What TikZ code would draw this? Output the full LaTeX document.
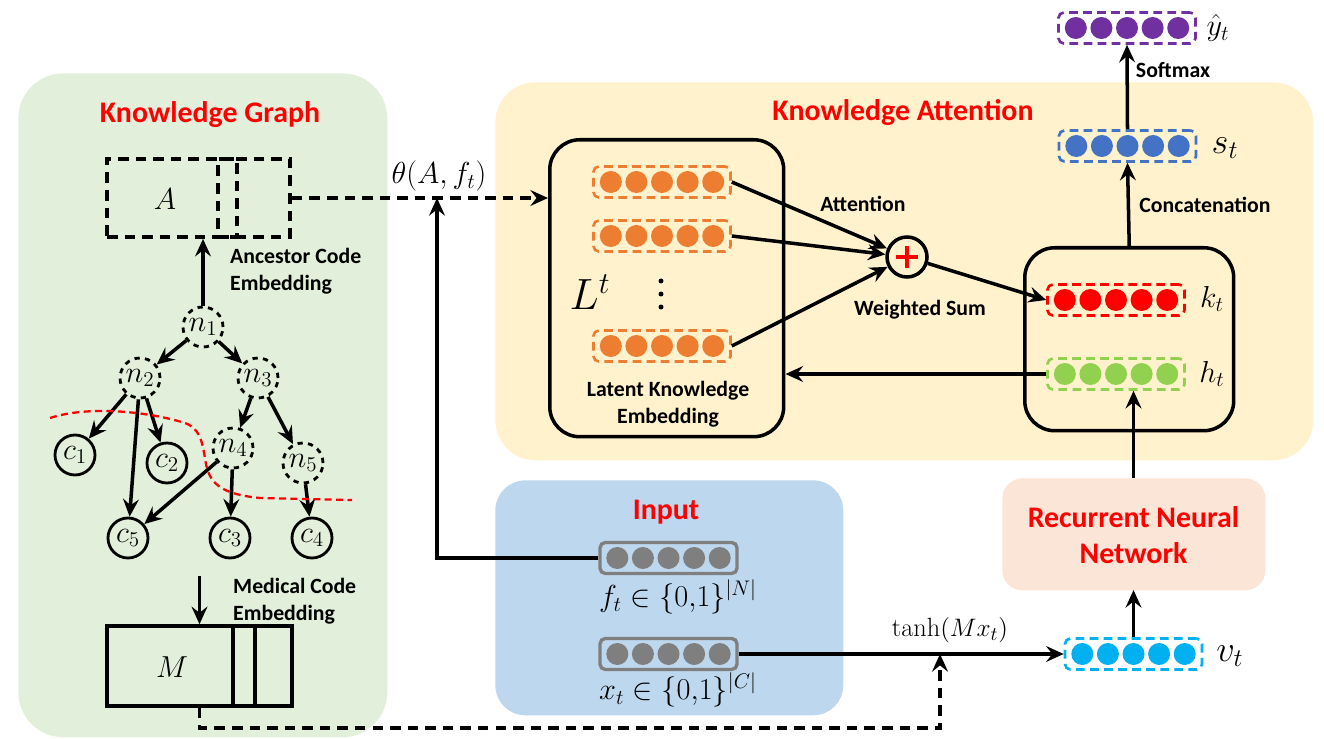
\documentclass[tikz,border=0pt]{standalone}
\usepackage{fontspec}
\setsansfont{Carlito}
\usetikzlibrary{arrows.meta,calc}
\definecolor{kggreen}{HTML}{E2EFDA}
\definecolor{kayellow}{HTML}{FFF2CC}
\definecolor{inblue}{HTML}{BDD7EE}
\definecolor{rnnpeach}{HTML}{FBE5D6}
\definecolor{vorange}{HTML}{ED7D31}
\definecolor{vred}{HTML}{FF0000}
\definecolor{vgreen}{HTML}{92D050}
\definecolor{vblue}{HTML}{4472C4}
\definecolor{vpurple}{HTML}{7030A0}
\definecolor{vcyan}{HTML}{00B0F0}
\definecolor{vgray}{HTML}{7F7F7F}
\definecolor{ttlred}{HTML}{FF0000}
\newcommand\vecdots[2]{\foreach \k in {-2,...,2}{\fill[#2] ($(#1.center)+(\k*25.6,0)$) circle[radius=0.22cm];}}
\tikzset{
 vbox/.style={rounded corners=3pt, line width=1.5pt, dash pattern=on 5pt off 3pt, minimum width=2.74cm, minimum height=0.62cm, inner sep=0pt},
 gbox/.style={rounded corners=3pt, line width=1.9pt, draw=vgray, minimum width=2.74cm, minimum height=0.62cm, inner sep=0pt},
 conn/.style={line width=2pt, -{Stealth[length=10pt,width=9pt,inset=3.5pt]}},
 bdash/.style={line width=2.1pt, dash pattern=on 6pt off 4pt},
 tnode/.style={circle, draw, line width=1.6pt, minimum size=0.8cm, inner sep=0pt, font=\fontsize{18}{20}\selectfont},
 ttl/.style={font=\sffamily\bfseries\fontsize{17}{20.5}\selectfont, text=ttlred, align=center},
 lbl/.style={font=\sffamily\bfseries\fontsize{12.4}{15.4}\selectfont},
 mlbl/.style={font=\fontsize{17}{20}\selectfont},
 panel/.style={anchor=north west, inner sep=0pt},
 rbox/.style={draw, line width=2pt, rounded corners=0.6cm, anchor=north west, inner sep=0pt},
}
\begin{document}
\begin{tikzpicture}[x=0.02cm,y=-0.02cm]
\useasboundingbox (0,0) rectangle (1324,739);
% panels
\node[panel, fill=kggreen, rounded corners=0.9cm, minimum width=7.38cm, minimum height=13.28cm] (kg) at (18,73) {};
\node[panel, fill=kayellow, rounded corners=0.8cm, minimum width=16.36cm, minimum height=7.56cm] (ka) at (495,82) {};
\node[panel, fill=inblue, rounded corners=0.6cm, minimum width=6.96cm, minimum height=4.7cm] (inp) at (495,480) {};
\node[panel, fill=rnnpeach, rounded corners=0.4cm, minimum width=5.26cm, minimum height=2.24cm] (rnnp) at (1002,478) {};
% titles
\node[ttl] (t1) at (210,115) {Knowledge Graph};
\node[ttl] (t2) at (903,113) {Knowledge Attention};
\node[ttl] (t3) at (666,512) {Input};
\node[ttl] (rnn) at (1133.5,535) {Recurrent Neural\\Network};
\coordinate (rnnn) at (1133.5,478);
\coordinate (rnns) at (1133.5,590);
% knowledge graph
\node[draw, bdash, minimum width=2.6cm, minimum height=1.56cm, inner sep=0pt] (abox) at (172,198) {};
\node[draw, bdash, minimum width=1.44cm, minimum height=1.56cm, inner sep=0pt] (abox2) at (254,198) {};
\node[font=\fontsize{19}{22}\selectfont] (alab) at (165,199) {$A$};
\node[tnode, dashed] (n1) at (203,327) {$n_1$};
\node[tnode, dashed] (n2) at (140,378) {$n_2$};
\node[tnode, dashed] (n3) at (258,378) {$n_3$};
\node[tnode, dashed] (n4) at (233,448) {$n_4$};
\node[tnode, dashed] (n5) at (303,463) {$n_5$};
\node[tnode] (c1) at (75,455) {$c_1$};
\node[tnode] (c2) at (167,463) {$c_2$};
\node[tnode] (c5) at (128,538) {$c_5$};
\node[tnode] (c3) at (230,538) {$c_3$};
\node[tnode] (c4) at (312,538) {$c_4$};
\draw[conn] (n1) -- (n2);
\draw[conn] (n1) -- (n3);
\draw[conn] (n2) -- (c1);
\draw[conn] (n2) -- (c2);
\draw[conn] (n2) -- (c5);
\draw[conn] (n3) -- (n4);
\draw[conn] (n3) -- (n5);
\draw[conn] (n4) -- (c5);
\draw[conn] (n4) -- (c3);
\draw[conn] (n5) -- (c4);
\draw[red, line width=1.3pt, dash pattern=on 4pt off 2.5pt] (50,418) .. controls (90,405) and (150,412) .. (185,423) .. controls (205,430) and (203,455) .. (207,468) .. controls (212,488) and (230,495) .. (260,498) -- (352,500);
\draw[conn] (n1.north) -- (n1.north |- abox.south);
\node[lbl, anchor=west, align=left] (anc) at (224,271) {Ancestor Code\\Embedding};
\coordinate (mtop) at (199.5,576);
\node[draw, line width=2pt, minimum width=3.7cm, minimum height=1.6cm, inner sep=0pt] (mbox) at (199.5,666) {};
\draw[line width=2pt] (233,626) -- (233,706) (255,626) -- (255,706);
\node[font=\fontsize{19}{22}\selectfont] (mlab) at (172,667) {$M$};
\draw[conn] (mtop) -- (mbox.north);
\node[lbl, anchor=west, align=left] (med) at (227,601) {Medical Code\\Embedding};
% latent knowledge box
\node[rbox, minimum width=4.68cm, minimum height=5.94cm] (lt) at (548,138) {};
\node[vbox, draw=vorange] (o1) at (662,182) {};
\node[vbox, draw=vorange] (o2) at (662,236) {};
\node[vbox, draw=vorange] (o3) at (662,346) {};
\vecdots{o1}{vorange}
\vecdots{o2}{vorange}
\vecdots{o3}{vorange}
\node[font=\fontsize{23}{25}\selectfont] (ltlab) at (590,292) {$L^t$};
\foreach \yy in {281,294,307}{\fill (661,\yy) circle[radius=0.05cm];}
\node[lbl, align=center] (lke) at (668,404) {Latent Knowledge\\Embedding};
% attention
\node[circle, draw, line width=2pt, fill=kayellow, minimum size=0.8cm, inner sep=0pt] (plus) at (907,257) {};
\draw[vred, line width=2.6pt] ($(plus.center)+(-11,0)$) -- ($(plus.center)+(11,0)$) ($(plus.center)+(0,-11)$) -- ($(plus.center)+(0,11)$);
\draw[conn] (o1.east) -- (plus);
\draw[conn] (o2.east) -- (plus);
\draw[conn] (o3.east) -- (plus);
\node[lbl] (att) at (863,204) {Attention};
\node[lbl] (ws) at (920,310) {Weighted Sum};
% right box
\node[rbox, minimum width=4.18cm, minimum height=3.66cm] (rb) at (1023,246) {};
\node[vbox, draw=vred] (kt) at (1116,300) {};
\vecdots{kt}{vred}
\node[vbox, draw=vgreen] (ht) at (1116,374) {};
\vecdots{ht}{vgreen}
\node[mlbl] (ktl) at (1212,299) {$k_t$};
\node[mlbl] (htl) at (1212,374) {$h_t$};
\draw[conn] (plus) -- (kt.west);
\draw[conn] (ht.west) -- (ht.west -| lt.east);
\node[vbox, draw=vblue] (st) at (1127.5,146) {};
\vecdots{st}{vblue}
\node[font=\fontsize{22}{24}\selectfont] (stl) at (1225,148) {$s_t$};
\node[vbox, draw=vpurple] (yh) at (1127,28) {};
\vecdots{yh}{vpurple}
\node[mlbl] (yhl) at (1218,28) {$\hat{y}_t$};
\draw[conn] (rb.north) -- (st.south);
\draw[conn] (st.north) -- (yh.south);
\node[lbl] (cat) at (1205,205) {Concatenation};
\node[lbl] (smx) at (1173,70) {Softmax};
\draw[conn] (rnnn) -- (rnnn |- ht.south);
% input
\node[gbox] (ft) at (668.5,558) {};
\vecdots{ft}{vgray}
\node[gbox] (xt) at (668.5,654) {};
\vecdots{xt}{vgray}
\node[mlbl] (ftl) at (678,597) {$f_t\in\{0{,}1\}^{|N|}$};
\node[mlbl] (xtl) at (678,690) {$x_t\in\{0{,}1\}^{|C|}$};
\node[vbox, draw=vcyan] (vt) at (1133.5,654) {};
\vecdots{vt}{vcyan}
\node[font=\fontsize{22}{24}\selectfont] (vtl) at (1230,656) {$v_t$};
\draw[conn] (xt.east) -- (vt.west);
\draw[conn] (vt.north) -- (rnns);
\node[font=\fontsize{15}{18}\selectfont] (tanhl) at (950,630) {$\tanh(Mx_t)$};
% theta connection
\coordinate (thj) at (437,198);
\draw[bdash, -{Stealth[length=10pt,width=9pt,inset=3.5pt]}] (abox2.east) -- (abox2.east -| lt.west);
\draw[conn] (ft.west) -| (thj);
\node[mlbl] (thl) at (439,176) {$\theta(A,f_t)$};
% M dashed connection
\coordinate (mb) at (199.5,728);
\coordinate (tb) at (940,728);
\coordinate (tj) at (940,654);
\draw[bdash, -{Stealth[length=10pt,width=9pt,inset=3.5pt]}] (mbox.south) -- (mb) -- (tb) -- (tj);
\end{tikzpicture}
\end{document}
